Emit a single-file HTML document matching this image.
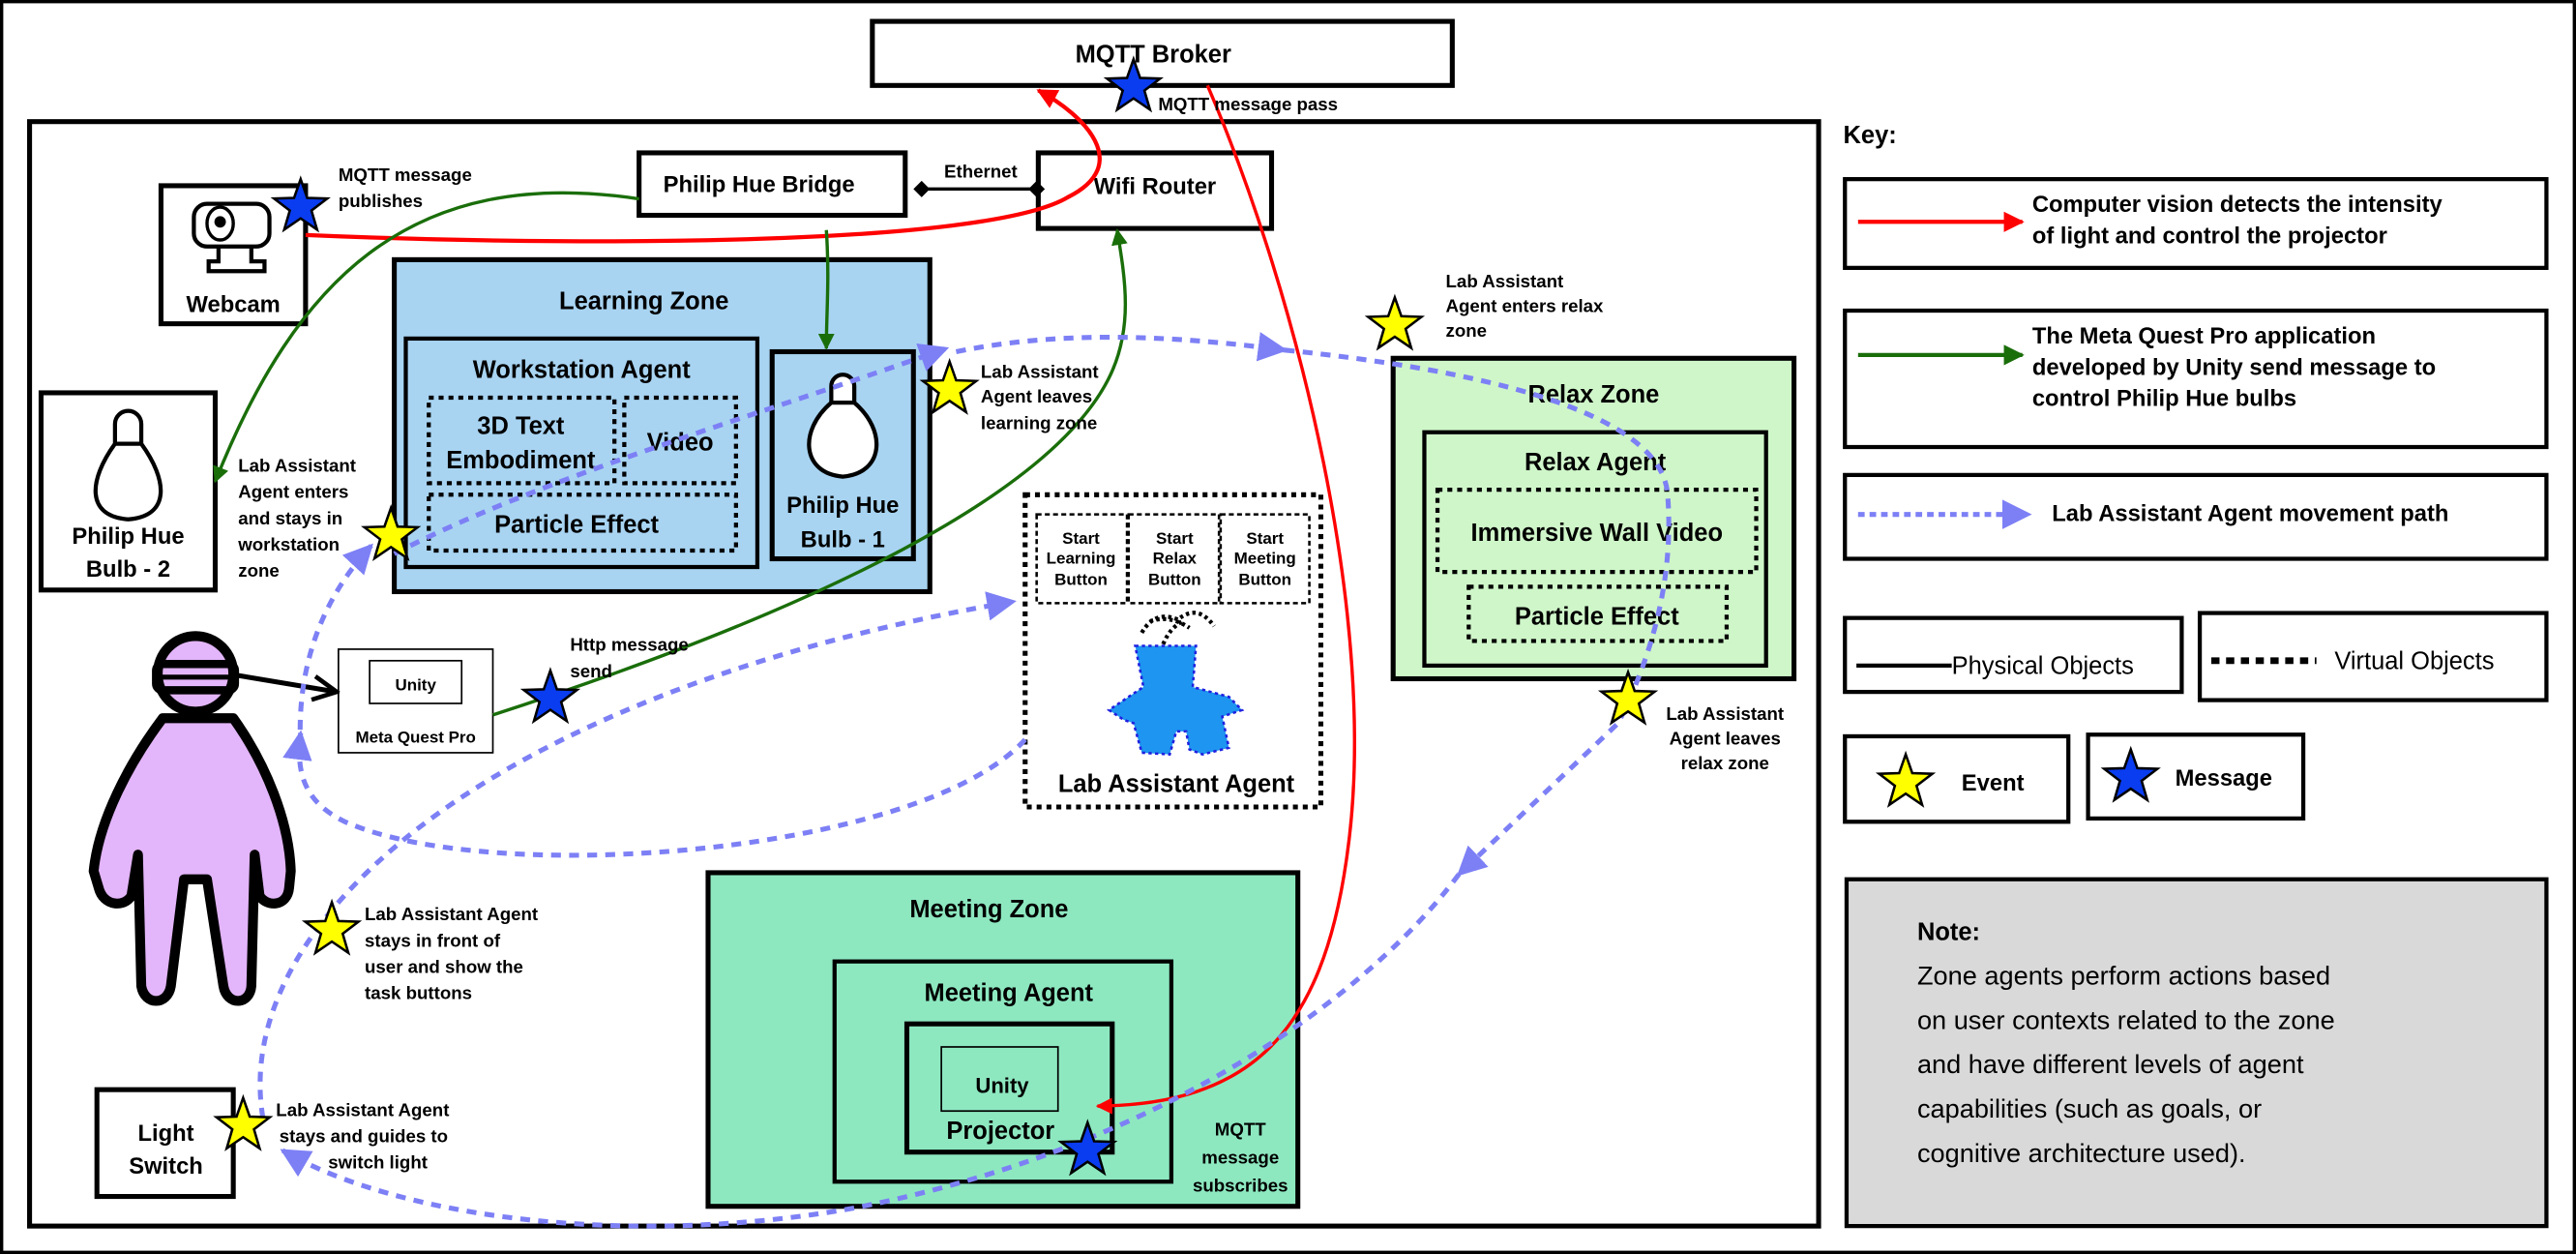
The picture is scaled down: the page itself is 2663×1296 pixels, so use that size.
<!DOCTYPE html>
<html><head><meta charset="utf-8"><style>
html,body{margin:0;padding:0;background:#fff;}
svg{display:block;}
text{font-family:"Liberation Sans",sans-serif;font-weight:bold;fill:#000;}
text.n{font-weight:normal;}
</style></head><body>
<svg width="2663" height="1296" viewBox="0 0 1568 763" preserveAspectRatio="none" xmlns="http://www.w3.org/2000/svg">
<defs>
<polygon id="star" points="0,-17 4,-5.6 16.2,-5.2 6.6,2.1 10,13.7 0,6.9 -10,13.7 -6.6,2.1 -16.2,-5.2 -4,-5.6" stroke="#000" stroke-width="1.5"/>
<marker id="ar" viewBox="0 0 10 10" refX="9" refY="5" markerWidth="5" markerHeight="5" orient="auto"><path d="M0,0 L10,5 L0,10 z" fill="#f00"/></marker>
<marker id="ag" viewBox="0 0 10 10" refX="9" refY="5" markerWidth="5" markerHeight="5" orient="auto"><path d="M0,0 L10,5 L0,10 z" fill="#1a6e0a"/></marker>
<marker id="ab" viewBox="0 0 10 10" refX="9" refY="5" markerWidth="6" markerHeight="6" orient="auto"><path d="M0,0 L10,5 L0,10 z" fill="#7d80f5"/></marker>
<marker id="ak" viewBox="0 0 10 10" refX="9" refY="5" markerWidth="6" markerHeight="6" orient="auto"><path d="M1,1 L9,5 L1,9" fill="none" stroke="#000" stroke-width="1.5"/></marker>
</defs>
<rect x="1" y="1" width="1566" height="761" fill="#fff" stroke="#000" stroke-width="2"/>
<!-- MQTT broker -->
<rect x="531" y="13" width="353" height="39" fill="#fff" stroke="#000" stroke-width="3"/>
<text x="702" y="38" font-size="15" text-anchor="middle">MQTT Broker</text>
<!-- main box -->
<rect x="18" y="74" width="1089" height="672" fill="none" stroke="#000" stroke-width="3"/>
<!-- bridge & router -->
<rect x="389" y="93" width="162" height="38" fill="#fff" stroke="#000" stroke-width="3"/>
<text x="462" y="117" font-size="14" text-anchor="middle">Philip Hue Bridge</text>
<rect x="632" y="93" width="142" height="46" fill="#fff" stroke="#000" stroke-width="3"/>
<text x="703" y="118" font-size="14" text-anchor="middle">Wifi Router</text>
<line x1="561" y1="115" x2="632" y2="115" stroke="#000" stroke-width="2"/>
<path d="M556,115 l5,-5 l5,5 l-5,5z M626,115 l5,-5 l5,5 l-5,5z" fill="#000"/>
<text x="597" y="108" font-size="11" text-anchor="middle">Ethernet</text>
<!-- webcam -->
<rect x="98" y="113" width="88" height="84" fill="#fff" stroke="#000" stroke-width="3"/>
<rect x="118" y="124" width="46" height="26" rx="8" fill="#fff" stroke="#000" stroke-width="2.5"/>
<ellipse cx="134" cy="136" rx="8" ry="10" fill="#fff" stroke="#000" stroke-width="2"/>
<circle cx="134" cy="135" r="3.5" fill="#000"/>
<path d="M133,150 v9 h-6 v6 h34 v-6 h-8 v-9" fill="none" stroke="#000" stroke-width="2.5"/>
<text x="142" y="190" font-size="14" text-anchor="middle">Webcam</text>
<!-- bulb 2 -->
<rect x="25" y="239" width="106" height="120" fill="#fff" stroke="#000" stroke-width="3"/>
<path d="M70,270 v-12 a8,8 0 0 1 16,0 v12 M70,270 h16 C102,292 104,314 78,316 C52,314 54,292 70,270z" fill="#fff" stroke="#000" stroke-width="2.5"/>
<text x="78" y="331" font-size="14" text-anchor="middle">Philip Hue</text>
<text x="78" y="351" font-size="14" text-anchor="middle">Bulb - 2</text>
<!-- learning zone -->
<rect x="240" y="158" width="326" height="202" fill="#a8d4f2" stroke="#000" stroke-width="3"/>
<text x="392" y="188" font-size="15" text-anchor="middle">Learning Zone</text>
<rect x="247" y="206" width="214" height="139" fill="#a8d4f2" stroke="#000" stroke-width="2.5"/>
<text x="354" y="230" font-size="15" text-anchor="middle">Workstation Agent</text>
<g fill="none" stroke="#000" stroke-width="2.5" stroke-dasharray="3,3">
<rect x="261" y="242" width="113" height="52"/><rect x="380" y="242" width="68" height="52"/><rect x="261" y="301" width="187" height="34"/>
</g>
<text x="317" y="264" font-size="15" text-anchor="middle">3D Text</text>
<text x="317" y="285" font-size="15" text-anchor="middle">Embodiment</text>
<text x="414" y="274" font-size="15" text-anchor="middle">Video</text>
<text x="351" y="324" font-size="15" text-anchor="middle">Particle Effect</text>
<rect x="470" y="214" width="86" height="126" fill="#a8d4f2" stroke="#000" stroke-width="3"/>
<path d="M506,245 v-10 a7,7 0 0 1 14,0 v10 M506,245 h14 C540,262 538,288 513,290 C488,288 486,262 506,245z" fill="#fff" stroke="#000" stroke-width="2.5"/>
<text x="513" y="312" font-size="14" text-anchor="middle">Philip Hue</text>
<text x="513" y="333" font-size="14" text-anchor="middle">Bulb - 1</text>
<!-- lab assistant -->
<rect x="624" y="301" width="180" height="190" fill="#fff" stroke="#000" stroke-width="3" stroke-dasharray="3,3"/>
<g fill="none" stroke="#000" stroke-width="1.5" stroke-dasharray="3,2">
<rect x="631" y="313" width="55" height="54"/><rect x="687" y="313" width="55" height="54"/><rect x="743" y="313" width="54" height="54"/>
</g>
<g font-size="10" text-anchor="middle">
<text x="658" y="331">Start</text><text x="658" y="343">Learning</text><text x="658" y="356">Button</text>
<text x="715" y="331">Start</text><text x="715" y="343">Relax</text><text x="715" y="356">Button</text>
<text x="770" y="331">Start</text><text x="770" y="343">Meeting</text><text x="770" y="356">Button</text>
</g>
<path d="M695,385 q8,-14 22,-8 q12,-10 22,4 M708,392 q4,-10 12,-14 M700,378 q12,-4 24,4" fill="none" stroke="#000" stroke-width="2.5" stroke-dasharray="2,2"/>
<path d="M691,393 L728,393 L726,418 L748,424 L756,432 L744,436 L748,455 L732,459 L724,456 L722,445 L716,445 L712,459 L695,458 L690,440 L684,438 L675,432 L690,422 L696,418z" fill="#1e95f0" stroke="#2020e0" stroke-width="1.5" stroke-dasharray="2,2"/>
<text x="716" y="482" font-size="15" text-anchor="middle">Lab Assistant Agent</text>
<!-- relax -->
<rect x="848" y="218" width="244" height="195" fill="#cff6c9" stroke="#000" stroke-width="3"/>
<text x="970" y="245" font-size="15" text-anchor="middle">Relax Zone</text>
<rect x="867" y="263" width="208" height="142" fill="#cff6c9" stroke="#000" stroke-width="2.5"/>
<text x="971" y="286" font-size="15" text-anchor="middle">Relax Agent</text>
<g fill="none" stroke="#000" stroke-width="2.5" stroke-dasharray="3,3">
<rect x="875" y="298" width="194" height="50"/><rect x="894" y="357" width="157" height="33"/>
</g>
<text x="972" y="329" font-size="15" text-anchor="middle">Immersive Wall Video</text>
<text x="972" y="380" font-size="15" text-anchor="middle">Particle Effect</text>
<!-- meeting -->
<rect x="431" y="531" width="359" height="203" fill="#8de8c0" stroke="#000" stroke-width="3"/>
<text x="602" y="558" font-size="15" text-anchor="middle">Meeting Zone</text>
<rect x="508" y="585" width="205" height="134" fill="#8de8c0" stroke="#000" stroke-width="2.5"/>
<text x="614" y="609" font-size="15" text-anchor="middle">Meeting Agent</text>
<rect x="552" y="623" width="125" height="78" fill="#8de8c0" stroke="#000" stroke-width="3"/>
<rect x="573" y="637" width="71" height="39" fill="none" stroke="#000" stroke-width="1"/>
<text x="610" y="665" font-size="13" text-anchor="middle">Unity</text>
<text x="609" y="693" font-size="15" text-anchor="middle">Projector</text>
<text x="755" y="691" font-size="11" text-anchor="middle">MQTT</text>
<text x="755" y="708" font-size="11" text-anchor="middle">message</text>
<text x="755" y="725" font-size="11" text-anchor="middle">subscribes</text>
<!-- meta quest -->
<rect x="206" y="395" width="94" height="63" fill="#fff" stroke="#000" stroke-width="1"/>
<rect x="225" y="402" width="56" height="26" fill="#fff" stroke="#000" stroke-width="1"/>
<text x="253" y="420" font-size="10" text-anchor="middle">Unity</text>
<text x="253" y="452" font-size="10" text-anchor="middle">Meta Quest Pro</text>
<!-- light switch -->
<rect x="59" y="663" width="83" height="65" fill="#fff" stroke="#000" stroke-width="3"/>
<text x="101" y="694" font-size="14" text-anchor="middle">Light</text>
<text x="101" y="714" font-size="14" text-anchor="middle">Switch</text>
<!-- person -->
<g stroke="#000" stroke-width="6" fill="#e3b5fa" stroke-linejoin="round">
<path d="M99,437 L142,437 C162,465 176,500 177,530 L176,540 C175,552 162,552 158,545 L155,520 L153,600 C152,612 138,612 136,600 L126,535 L112,535 L104,600 C102,612 88,612 86,600 L84,520 L80,545 C76,552 63,552 60,540 L57,530 C60,500 78,465 99,437z"/>
<circle cx="119" cy="410" r="23"/>
</g>
<rect x="95" y="404" width="48" height="16" rx="4" fill="none" stroke="#000" stroke-width="5"/>
<line x1="95" y1="412" x2="143" y2="412" stroke="#000" stroke-width="3"/>
<line x1="145" y1="411" x2="205" y2="421" stroke="#000" stroke-width="3" marker-end="url(#ak)"/>
<!-- red lines -->
<path d="M186,143 C350,150 600,150 650,120 C690,100 660,70 632,55" fill="none" stroke="#f00" stroke-width="2.5" marker-end="url(#ar)"/>
<path d="M735,52 C790,180 840,380 820,520 C805,630 760,672 668,673" fill="none" stroke="#f00" stroke-width="2" marker-end="url(#ar)"/>
<!-- green lines -->
<path d="M389,121 C250,100 180,170 131,293" fill="none" stroke="#1a6e0a" stroke-width="2" marker-end="url(#ag)"/>
<path d="M503,140 C505,170 503,190 503,212" fill="none" stroke="#1a6e0a" stroke-width="2" marker-end="url(#ag)"/>
<path d="M300,435 C500,370 640,300 675,230 C690,200 685,170 680,140" fill="none" stroke="#1a6e0a" stroke-width="2" marker-end="url(#ag)"/>
<!-- blue dashed -->
<g fill="none" stroke="#7d80f5" stroke-width="3" stroke-dasharray="6,5">
<path d="M240,337 C330,290 470,250 576,212" marker-end="url(#ab)"/>
<path d="M582,214 C650,200 720,205 782,213" marker-end="url(#ab)"/>
<path d="M782,213 C900,225 1010,250 1015,300 C1020,360 1000,410 985,440 L888,532" marker-end="url(#ab)"/>
<path d="M888,532 C830,610 700,700 520,735 C380,760 240,740 172,700" marker-end="url(#ab)"/>
<path d="M160,680 C140,560 300,420 617,366" marker-end="url(#ab)"/>
<path d="M624,450 C560,520 300,540 210,500 C185,488 180,470 183,446" marker-end="url(#ab)"/>
<path d="M183,455 C180,400 200,360 226,332" marker-end="url(#ab)"/>
</g>
<!-- labels -->
<g font-size="11">
<text x="705" y="67">MQTT message pass</text>
<text x="206" y="110">MQTT message</text><text x="206" y="126">publishes</text>
<text x="145" y="287">Lab Assistant</text><text x="145" y="303">Agent enters</text><text x="145" y="319">and stays in</text><text x="145" y="335">workstation</text><text x="145" y="351">zone</text>
<text x="597" y="230">Lab Assistant</text><text x="597" y="245">Agent leaves</text><text x="597" y="261">learning zone</text>
<text x="880" y="175">Lab Assistant</text><text x="880" y="190">Agent enters relax</text><text x="880" y="205">zone</text>
<text x="1050" y="438" text-anchor="middle">Lab Assistant</text><text x="1050" y="453" text-anchor="middle">Agent leaves</text><text x="1050" y="468" text-anchor="middle">relax zone</text>
<text x="347" y="396">Http message</text><text x="347" y="412">send</text>
<text x="222" y="560">Lab Assistant Agent</text><text x="222" y="576">stays in front of</text><text x="222" y="592">user and show the</text><text x="222" y="608">task buttons</text>
<text x="168" y="679">Lab Assistant Agent</text><text x="170" y="695">stays and guides to</text><text x="230" y="711" text-anchor="middle">switch light</text>
</g>
<!-- Key -->
<text x="1122" y="87" font-size="15">Key:</text>
<g fill="#fff" stroke="#000" stroke-width="2.5">
<rect x="1123" y="109" width="427" height="54"/><rect x="1123" y="189" width="427" height="83"/><rect x="1123" y="289" width="427" height="51"/>
<rect x="1123" y="376" width="205" height="45"/><rect x="1339" y="373" width="211" height="53"/>
<rect x="1123" y="448" width="136" height="52"/><rect x="1271" y="447" width="131" height="51"/>
</g>
<!-- stars -->
<g fill="#ffff00">
<use href="#star" x="578" y="237"/><use href="#star" x="238" y="326"/><use href="#star" x="849" y="198"/>
<use href="#star" x="991" y="426"/><use href="#star" x="202" y="566"/><use href="#star" x="148" y="685"/>
<use href="#star" x="1160" y="476"/>
</g>
<g fill="#0a3cf0">
<use href="#star" x="690" y="53"/><use href="#star" x="183" y="126"/><use href="#star" x="335" y="425"/>
<use href="#star" x="662" y="700"/><use href="#star" x="1297" y="473"/>
</g>
<line x1="1131" y1="135" x2="1231" y2="135" stroke="#f00" stroke-width="2.5" marker-end="url(#ar)"/>
<line x1="1131" y1="216" x2="1231" y2="216" stroke="#1a6e0a" stroke-width="2.5" marker-end="url(#ag)"/>
<line x1="1131" y1="313" x2="1235" y2="313" stroke="#7d80f5" stroke-width="3" stroke-dasharray="4,3" marker-end="url(#ab)"/>
<line x1="1130" y1="405" x2="1188" y2="405" stroke="#000" stroke-width="2.5"/>
<line x1="1346" y1="402" x2="1410" y2="402" stroke="#000" stroke-width="4" stroke-dasharray="5,4"/>
<g font-size="14">
<text x="1237" y="129">Computer vision detects the intensity</text>
<text x="1237" y="148">of light and control the projector</text>
<text x="1237" y="209">The Meta Quest Pro application</text>
<text x="1237" y="228">developed by Unity send message to</text>
<text x="1237" y="247">control Philip Hue bulbs</text>
<text x="1249" y="317">Lab Assistant Agent movement path</text>
<text x="1194" y="481">Event</text>
<text x="1324" y="478">Message</text>
</g>
<text class="n" x="1188" y="410" font-size="15">Physical Objects</text>
<text class="n" x="1421" y="407" font-size="15">Virtual Objects</text>
<rect x="1124" y="535" width="426" height="211" fill="#d9d9d9" stroke="#000" stroke-width="2.5"/>
<text x="1167" y="572" font-size="15">Note:</text>
<g font-size="16">
<text class="n" x="1167" y="599">Zone agents perform actions based</text>
<text class="n" x="1167" y="626">on user contexts related to the zone</text>
<text class="n" x="1167" y="653">and have different levels of agent</text>
<text class="n" x="1167" y="680">capabilities (such as goals, or</text>
<text class="n" x="1167" y="707">cognitive architecture used).</text>
</g>
</svg>
</body></html>
